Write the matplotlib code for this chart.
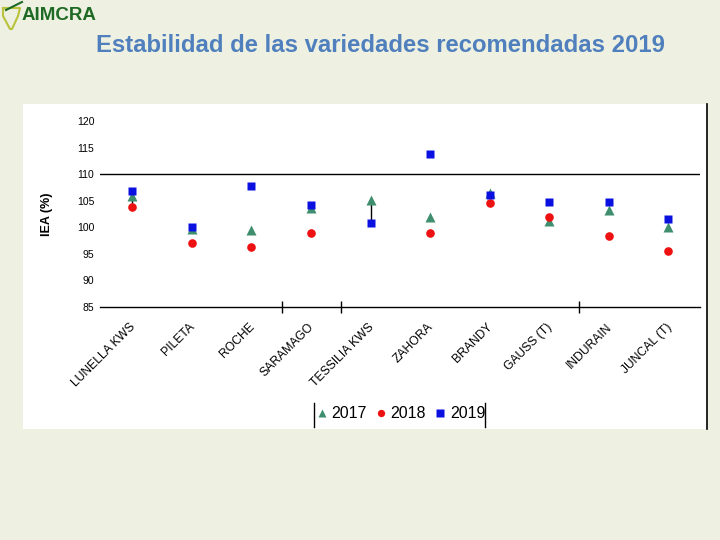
# IEA stability chart for recommended varieties (AIMCRA 2019)
import matplotlib.pyplot as plt
from matplotlib.patches import Rectangle
from matplotlib.lines import Line2D
import matplotlib.transforms as mtransforms
import numpy as np

plt.rcParams['font.family'] = ['Liberation Sans', 'DejaVu Sans']

varieties = ['LUNELLA KWS', 'PILETA', 'ROCHE', 'SARAMAGO', 'TESSILIA KWS',
             'ZAHORA', 'BRANDY', 'GAUSS (T)', 'INDURAIN', 'JUNCAL (T)']
iea_2017 = [105.9, 99.7, 99.5, 103.7, 105.1, 102.0, 106.5, 101.2, 103.3, 100.0]
iea_2018 = [103.8, 97.1, 96.2, 98.9, np.nan, 98.9, 104.6, 102.0, 98.4, 95.5]
iea_2019 = [106.8, 100.1, 107.8, 104.2, 100.9, 113.7, 106.1, 104.8, 104.8, 101.5]
y_ticks = [85, 90, 95, 100, 105, 110, 115, 120]

BG = '#eef1e1'
C17 = '#3f8f6f'
C18 = '#ee1111'
C19 = '#0a10e0'


def main():
    fig = plt.figure(figsize=(7.2, 5.4), dpi=100, facecolor=BG)

    # white panel behind the chart
    fig.patches.append(Rectangle((23 / 720, 1 - 429 / 540), 684 / 720, 325 / 540,
                                 transform=fig.transFigure, facecolor='white',
                                 edgecolor='none', zorder=-5))
    fig.lines.append(Line2D([707 / 720, 707 / 720], [1 - 104 / 540, 1 - 429 / 540],
                            transform=fig.transFigure, color='black', lw=1.2))

    ax = fig.add_axes([100 / 720, 1 - 307 / 540, 600 / 720, 186 / 540])
    ax.set_zorder(2)
    ax.set_facecolor('none')
    x = np.arange(len(varieties))

    # short high-low style connectors seen in the original
    ax.vlines([x[0]], [iea_2018[0]], [iea_2017[0]], color='black', lw=1, zorder=1)
    ax.vlines([x[4]], [iea_2019[4]], [iea_2017[4]], color='black', lw=1, zorder=1)

    ax.plot(x, iea_2017, '^', color=C17, ms=7, mec='none', label='2017', zorder=3)
    ax.plot(x, iea_2018, 'o', color=C18, ms=6.2, mec='none', label='2018', zorder=3)
    ax.plot(x, iea_2019, 's', color=C19, ms=6, mec='none', label='2019', zorder=4)

    ax.set_xlim(-0.54, 9.53)
    ax.set_ylim(85, 120)
    ax.axhline(110, color='black', lw=1, zorder=0)
    for s in ['top', 'right', 'left']:
        ax.spines[s].set_visible(False)
    ax.spines['bottom'].set_linewidth(1)

    ax.set_yticks(y_ticks)
    ax.set_yticklabels([str(v) for v in y_ticks], fontsize=7.5)
    ax.tick_params(axis='y', length=0, pad=4)

    ax.set_xticks(x)
    ax.set_xticklabels(varieties, rotation=45, ha='right', va='top',
                       rotation_mode='anchor', fontsize=8.7)
    ax.tick_params(axis='x', length=0, pad=10)
    shift = mtransforms.ScaledTranslation(-3 / 100, 0, fig.dpi_scale_trans)
    for lab in ax.get_xticklabels():
        lab.set_transform(lab.get_transform() + shift)
    ax.set_xticks([2.52, 3.51, 7.5], minor=True)
    ax.tick_params(axis='x', which='minor', direction='inout', length=9, width=1)

    ax.set_ylabel('IEA (%)', fontsize=9, fontweight='bold', labelpad=17)

    fig.legend(handles=ax.get_legend_handles_labels()[0], ncol=3,
               loc='center', bbox_to_anchor=(401 / 720, 1 - 414 / 540),
               frameon=False, fontsize=11.5, handlelength=0.6,
               handletextpad=0.3, columnspacing=0.6, markerscale=0.85)
    for xl in (314, 485):
        fig.lines.append(Line2D([xl / 720, xl / 720], [1 - 403 / 540, 1 - 427 / 540],
                                transform=fig.transFigure, color='black', lw=1))

    fig.text(381 / 720, 1 - 45 / 540, 'Estabilidad de las variedades recomendadas 2019',
             ha='center', va='center', fontsize=17.2, fontweight='bold', color='#4f7fbd')

    # logo
    fig.text(22 / 720, 1 - 16 / 540, 'AIMCRA', ha='left', va='center',
             fontsize=13.5, fontweight='bold', color='#1e6a25')
    lx = np.array([3, 20, 18, 12, 10, 3, 3])
    ly = np.array([8, 8, 16, 29, 29, 16, 8])
    fig.lines.append(Line2D(lx / 720, 1 - ly / 540, transform=fig.transFigure,
                            color='#b8c23a', lw=1.5))
    fig.lines.append(Line2D(np.array([6, 22]) / 720, 1 - np.array([10, 2]) / 540,
                            transform=fig.transFigure, color='#1e6a25', lw=1.5))

    plt.savefig('out.png', dpi=100, facecolor=BG)


if __name__ == '__main__':
    main()
